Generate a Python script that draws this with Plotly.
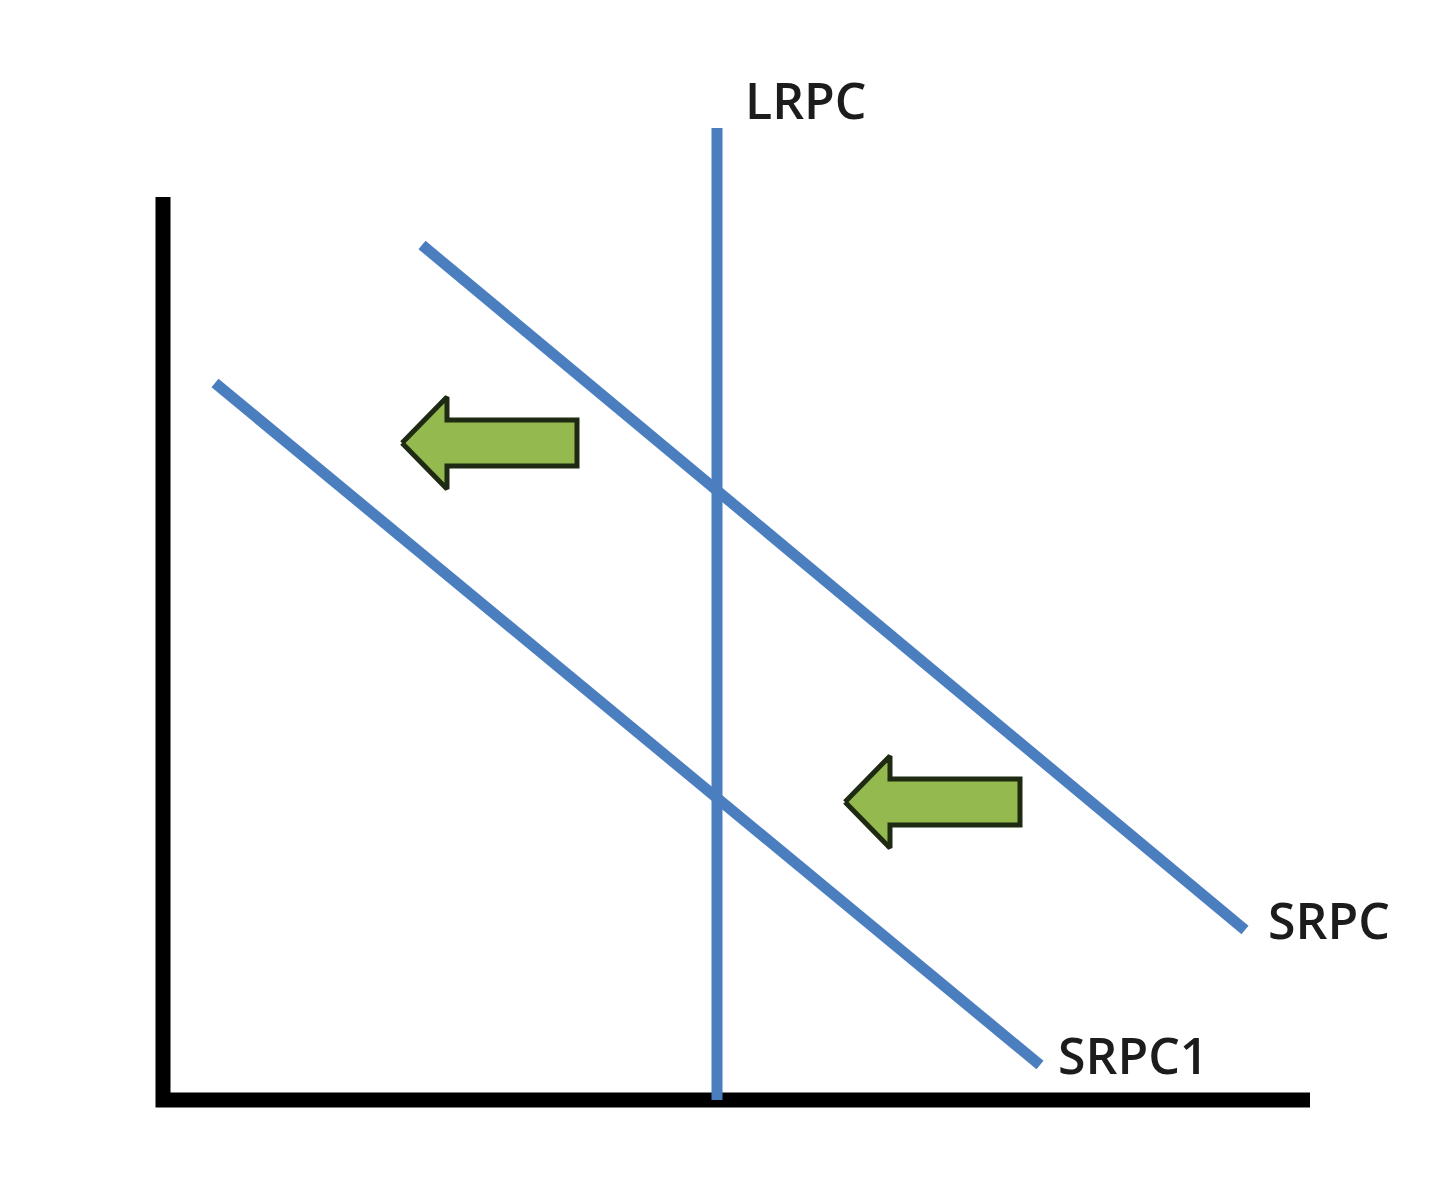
import plotly.graph_objects as go

# Phillips curve diagram: unemployment (x) vs inflation (y), arbitrary units
axis_x = [0, 0, 11.47]
axis_y = [9.03, 0, 0]

lrpc_x = [5.54, 5.54]
lrpc_y = [0, 9.72]

srpc_x = [2.59, 10.82]
srpc_y = [8.55, 1.70]

srpc1_x = [0.52, 8.77]
srpc1_y = [7.17, 0.35]

# arrow tips (shift left)
arrow_tip_x = [2.39, 6.82]
arrow_tip_y = [6.57, 2.98]

label_text = ["LRPC", "SRPC", "SRPC1"]
label_x = [5.80, 11.03, 8.93]
label_y = [10.0, 1.80, 0.45]

blue = "#4a7ebf"

fig = go.Figure()

# axes as one path so the corner joins cleanly
fig.add_trace(go.Scatter(x=axis_x, y=axis_y, mode="lines",
                         line=dict(color="black", width=15), hoverinfo="skip"))

for xs, ys in [(lrpc_x, lrpc_y), (srpc_x, srpc_y), (srpc1_x, srpc1_y)]:
    fig.add_trace(go.Scatter(x=xs, y=ys, mode="lines",
                             line=dict(color=blue, width=11), hoverinfo="skip"))

# block arrows built from the tip point
def arrow_shape(tx, ty, length=1.75, head=0.45, head_h=0.46, body_h=0.23):
    xs = [tx, tx + head, tx + head, tx + length, tx + length, tx + head, tx + head, tx]
    ys = [ty, ty + head_h, ty + body_h, ty + body_h, ty - body_h, ty - body_h, ty - head_h, ty]
    return xs, ys

for tx, ty in zip(arrow_tip_x, arrow_tip_y):
    ax, ay = arrow_shape(tx, ty)
    fig.add_trace(go.Scatter(x=ax, y=ay, mode="lines", fill="toself",
                             fillcolor="#93b94f",
                             line=dict(color="#1f2a12", width=5),
                             hoverinfo="skip"))

for t, x, y in zip(label_text, label_x, label_y):
    fig.add_annotation(x=x, y=y, text=t, showarrow=False, xanchor="left",
                       yanchor="middle",
                       font=dict(family="Open Sans", size=50, color="#1c1c1c",
                                 weight=600))

fig.update_layout(
    width=1440, height=1190,
    margin=dict(l=0, r=0, t=0, b=0),
    paper_bgcolor="white", plot_bgcolor="white",
    showlegend=False,
    xaxis=dict(range=[-1.55, 12.85], visible=False),
    yaxis=dict(range=[-0.98, 10.92], visible=False),
)

fig.write_html("out.html")
